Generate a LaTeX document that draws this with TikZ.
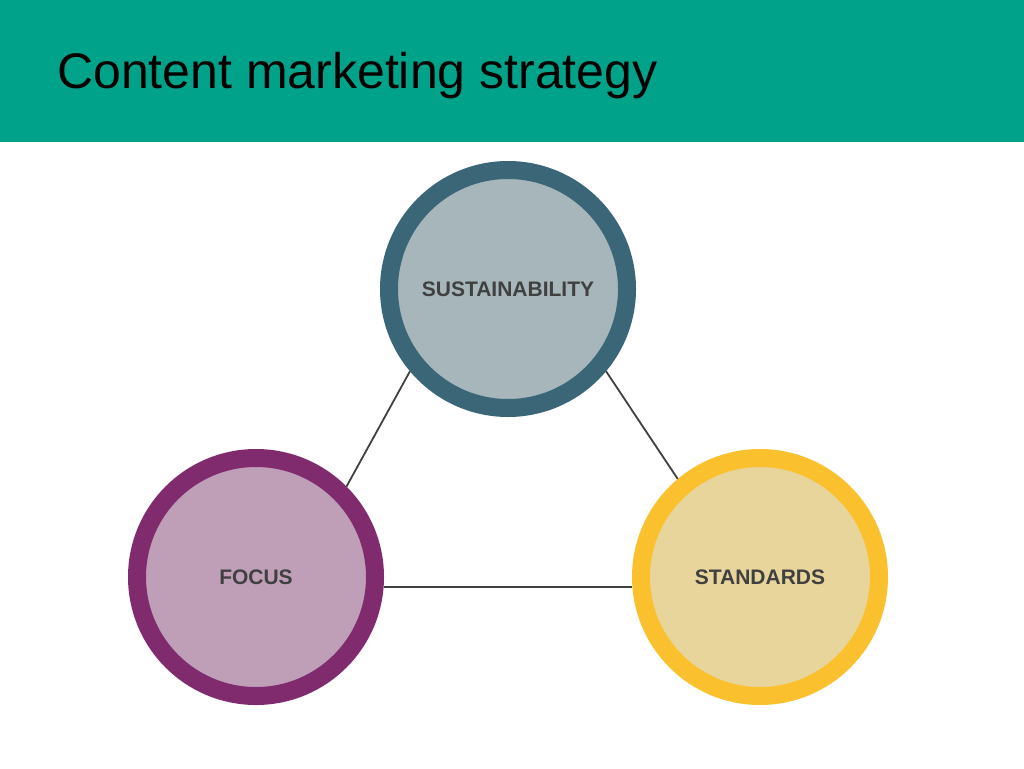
\documentclass[tikz,border=0pt]{standalone}
\usepackage{fontspec}
\setmainfont{Liberation Sans}
\definecolor{band}{HTML}{00A38A}
\definecolor{ringA}{HTML}{3A6677}\definecolor{fillA}{HTML}{A6B6BA}
\definecolor{ringB}{HTML}{7F2B6E}\definecolor{fillB}{HTML}{BF9FB8}
\definecolor{ringC}{HTML}{FBC02D}\definecolor{fillC}{HTML}{E8D59C}
\definecolor{txt}{HTML}{404040}
\tikzset{ring/.style={circle,minimum size=238pt,line width=18pt,font=\bfseries\fontsize{21}{24}\selectfont,text=txt,inner sep=0pt},
link/.style={draw=txt,line width=1.8pt}}
\begin{document}
\begin{tikzpicture}[x=1pt,y=-1pt]
\useasboundingbox (0,0) rectangle (1024,768);
\fill[band] (0,0) rectangle (1024,142);
\node[anchor=base west,inner sep=0pt,font=\fontsize{50}{56}\selectfont] (title) at (57,88) {Content marketing strategy};
\node[ring,draw=ringA,fill=fillA] (s) at (508,289) {SUSTAINABILITY};
\node[ring,draw=ringB,fill=fillB] (f) at (256,577) {FOCUS};
\node[ring,draw=ringC,fill=fillC] (d) at (760,577) {STANDARDS};
\begin{scope}[on background layer/.style={}]
\end{scope}
\draw[link] (s.220) -- (f.45);
\draw[link] (s.-40) -- (d.130);
\draw[link] ([yshift=-10pt]f.east) -- ([yshift=-10pt]d.west);
\end{tikzpicture}
\end{document}
